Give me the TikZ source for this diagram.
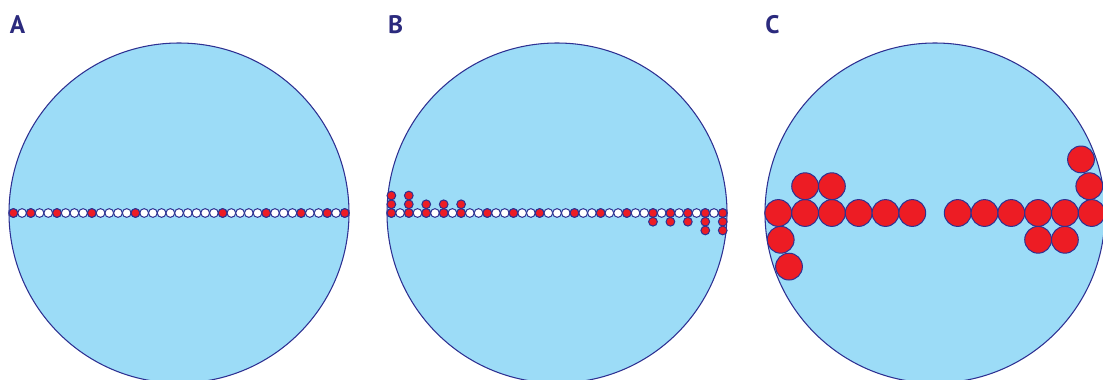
\documentclass[tikz,border=0pt]{standalone}
\usepackage{fontspec}
\setsansfont{PT Sans}
\usepackage{tikz}
\definecolor{skyfill}{RGB}{156,220,247}
\definecolor{navyline}{RGB}{46,49,146}
\definecolor{beadred}{RGB}{237,28,36}
\definecolor{labelnavy}{RGB}{43,42,125}
\tikzset{
	disc/.style={draw=navyline, fill=skyfill, line width=0.8pt},
	wbead/.style={draw=navyline, fill=white, line width=0.75pt},
	rbead/.style={draw=navyline, fill=beadred, line width=0.75pt},
	panellabel/.style={font=\sffamily\bfseries\fontsize{19}{19}\selectfont, text=labelnavy, inner sep=0pt}
}
\def\bx#1{{13.36+8.72*#1}}
\def\by#1{{391.36+8.72*#1}}

\begin{document}
\begin{tikzpicture}[x=0.75pt, y=-0.75pt]
		%%%%% START %%%%%
		\clip (0, 0) rectangle (1103, 379);
		
		\node[panellabel] (labA) at (17.5, 24.5) {A};
		\node[panellabel] (labB) at (395.5, 24.5) {B};
		\node[panellabel] (labC) at (772.5, 24.5) {C};
		
		\draw[disc] (179, 213) circle (170);
		\draw[disc] (557, 213) circle (170);
		\draw[disc] (935, 213) circle (170);
		
		% panel A
		\foreach \i in {0,...,38} \draw[wbead] (\bx{\i}, 213) circle (4.36);
		\foreach \i in {0,2,5,9,14,24,29,33,36,38} \draw[rbead] (\bx{\i}, 213) circle (4.36);
		
		% panel B
		\foreach \i in {0,...,38} \draw[wbead] (\by{\i}, 213) circle (4.36);
		\foreach \i in {0,2,4,6,8,11,14,17,21,24,27,30,32,34,36,38} \draw[rbead] (\by{\i}, 213) circle (4.36);
		\foreach \i in {0,2,4,6,8} \draw[rbead] (\by{\i}, 204.28) circle (4.36);
		\foreach \i in {0,2} \draw[rbead] (\by{\i}, 195.56) circle (4.36);
		\foreach \i in {30,32,34,36,38} \draw[rbead] (\by{\i}, 221.72) circle (4.36);
		\foreach \i in {36,38} \draw[rbead] (\by{\i}, 230.44) circle (4.36);
		
		% panel C
		\foreach \x in {778.3,805.1,831.9,858.7,885.5,912.3,957.7,984.5,1011.3,1038.1,1064.9,1091.7}
			\draw[rbead] (\x, 213) circle (13.4);
		\draw[rbead] (805.1, 186.2) circle (13.4);
		\draw[rbead] (831.9, 186.2) circle (13.4);
		\draw[rbead] (780.7, 239.8) circle (13.4);
		\draw[rbead] (789.0, 266.6) circle (13.4);
		\draw[rbead] (1038.1, 239.8) circle (13.4);
		\draw[rbead] (1064.9, 239.8) circle (13.4);
		\draw[rbead] (1089.3, 186.2) circle (13.4);
		\draw[rbead] (1081.0, 159.4) circle (13.4);
		%%%%% END %%%%%
	\end{tikzpicture}
\end{document}
